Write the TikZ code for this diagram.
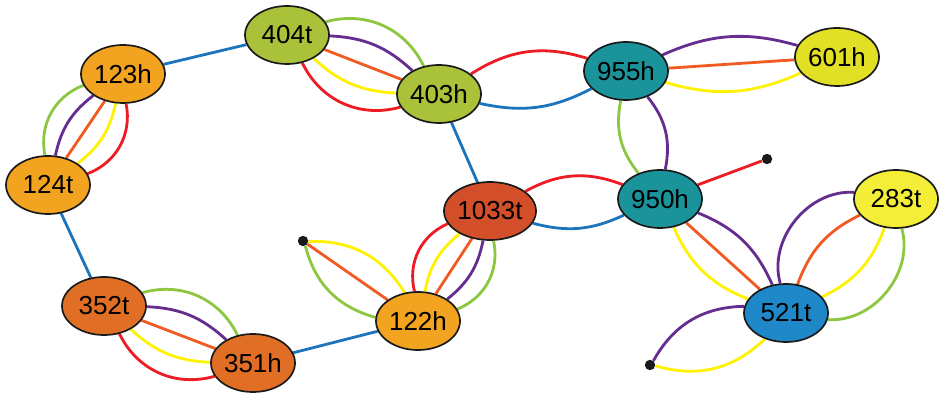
\documentclass[tikz,border=0pt]{standalone}
\usepackage{fontspec}
\setmainfont{Liberation Sans}
\usetikzlibrary{shapes.geometric,backgrounds}
\definecolor{ndorange}{HTML}{F2A31F}
\definecolor{ndgreen}{HTML}{A9C23A}
\definecolor{ndrust}{HTML}{E06F25}
\definecolor{ndred}{HTML}{D34F2A}
\definecolor{ndteal}{HTML}{1A939B}
\definecolor{ndlime}{HTML}{E2E024}
\definecolor{ndyellow}{HTML}{F4EE38}
\definecolor{ndblue}{HTML}{1E88C8}
\definecolor{egreen}{HTML}{8DC63F}
\definecolor{epurple}{HTML}{662D91}
\definecolor{eorange}{HTML}{F15A22}
\definecolor{eyellow}{HTML}{FFF200}
\definecolor{ered}{HTML}{ED1C24}
\definecolor{eblue}{HTML}{1C75BC}
\definecolor{outline}{HTML}{1A1A1A}
\tikzset{
  contig/.style={ellipse, draw=outline, line width=1.2pt, minimum width=2.1cm,
                 minimum height=1.45cm, inner sep=0pt,
                 font=\fontsize{18.5}{20}\selectfont},
  tip/.style={circle, fill=outline, inner sep=0pt, minimum size=0.26cm},
  ln/.style={line width=2pt, draw=#1}
}

\begin{document}
\begin{tikzpicture}[x=0.025cm,y=0.025cm]
  \useasboundingbox (0,0) rectangle (946,400);

  \node[contig, fill=ndgreen] (n404t) at (287,365) {404t};
  \node[contig, fill=ndorange] (n123h) at (123,326) {123h};
  \node[contig, fill=ndorange] (n124t) at (48,215) {124t};
  \node[contig, fill=ndgreen] (n403h) at (439,306) {403h};
  \node[contig, fill=ndteal] (n955h) at (626,329) {955h};
  \node[contig, fill=ndlime] (n601h) at (837,343) {601h};
  \node[contig, fill=ndteal] (n950h) at (660,201) {950h};
  \node[contig, fill=ndred] (n1033t) at (490,189) {1033t};
  \node[contig, fill=ndyellow] (n283t) at (896,201) {283t};
  \node[contig, fill=ndblue] (n521t) at (786,87) {521t};
  \node[contig, fill=ndorange] (n122h) at (418,79) {122h};
  \node[contig, fill=ndrust] (n352t) at (104,94) {352t};
  \node[contig, fill=ndrust] (n351h) at (253,37) {351h};

  \node[tip] (d1) at (303,159) {};
  \node[tip] (d2) at (767,241) {};
  \node[tip] (d3) at (650,35) {};

  \begin{scope}[on background layer]
    % single links
    \draw[ln=eblue] (n123h) -- (n404t);
    \draw[ln=eblue] (n124t) -- (n352t);
    \draw[ln=eblue] (n351h) -- (n122h);
    \draw[ln=eblue] (n403h) -- (n1033t);
    \draw[ln=ered] (n950h) -- (d2);

    % five-colour bundles
    \foreach \c/\b in {egreen/40, epurple/20, eorange/0, eyellow/-20, ered/-40} {
      \draw[ln=\c] (n404t) to[bend left=\b] (n403h);
      \draw[ln=\c] (n124t) to[bend left=\b] (n123h);
      \draw[ln=\c] (n352t) to[bend left=\b] (n351h);
    }
    \foreach \c/\b in {ered/40, eyellow/20, eorange/0, epurple/-20, egreen/-40}
      \draw[ln=\c] (n122h) to[bend left=\b] (n1033t);

    % smaller bundles
    \foreach \c/\b in {egreen/30, eorange/0, eyellow/-30}
      \draw[ln=\c] (n122h) to[bend left=\b] (d1);
    \foreach \c/\b in {epurple/20, eorange/0, eyellow/-20}
      \draw[ln=\c] (n955h) to[bend left=\b] (n601h);
    \foreach \c/\b in {epurple/22, eorange/0, eyellow/-22}
      \draw[ln=\c] (n950h) to[bend left=\b] (n521t);
    \foreach \c/\b in {epurple/55, eorange/22, eyellow/-22, egreen/-55}
      \draw[ln=\c] (n521t) to[bend left=\b] (n283t);
    \draw[ln=ered] (n403h) to[bend left=25] (n955h);
    \draw[ln=eblue] (n403h) to[bend right=20] (n955h);
    \draw[ln=epurple] (n955h) to[bend left=25] (n950h);
    \draw[ln=egreen] (n955h) to[bend right=25] (n950h);
    \draw[ln=ered] (n1033t) to[bend left=25] (n950h);
    \draw[ln=eblue] (n1033t) to[bend right=20] (n950h);
    \draw[ln=eyellow] (n521t) to[bend left=30] (d3);
    \draw[ln=epurple] (n521t) to[bend right=30] (d3);
  \end{scope}
\end{tikzpicture}
\end{document}
